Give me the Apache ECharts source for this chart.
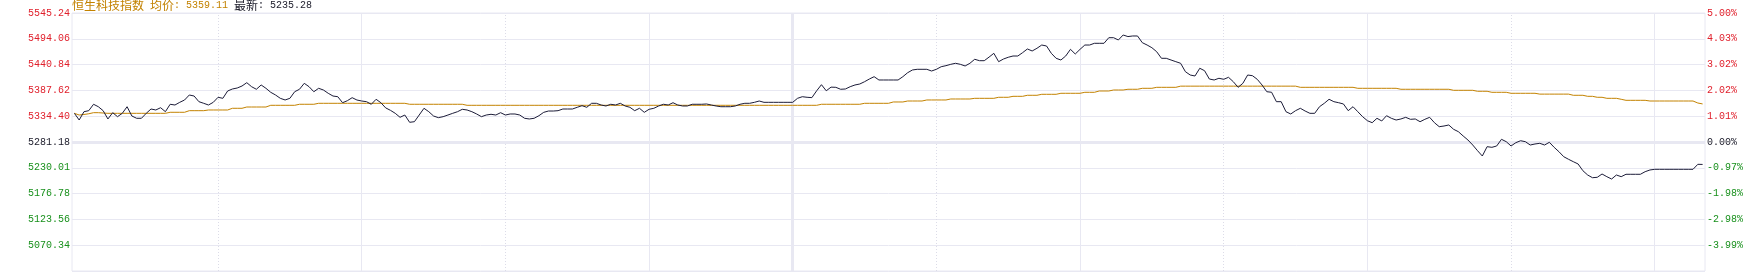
<!DOCTYPE html>
<html>
<head>
<meta charset="utf-8">
<script src="https://cdn.jsdelivr.net/npm/echarts@6/dist/echarts.min.js"></script>
<style>
html,body{margin:0;padding:0;background:#fff;}
#chart{width:1761px;height:274px;}
</style>
</head>
<body>
<div id="chart"></div>
<script>
// ---- data ----
var prevClose = 5281.18;
var avgLast = '5359.11';
var lastPrice = '5235.28';
var titleName = '恒生科技指数';

var leftLabels = ['', '5070.34', '5123.56', '5176.78', '5230.01', '5281.18', '5334.40', '5387.62', '5440.84', '5494.06', '5545.24'];
var rightLabels = ['', '-3.99%', '-2.98%', '-1.98%', '-0.97%', '0.00%', '1.01%', '2.02%', '3.02%', '4.03%', '5.00%'];

var priceValues = [
5339.9,5326.2,5343.2,5345.3,5358.4,5353.4,5345.3,5328.3,5341.2,5333.0,
5339.9,5353.4,5334.4,5329.7,5329.7,5339.9,5348.7,5346.7,5351.4,5343.2,
5358.4,5356.9,5362.4,5367.1,5377.4,5375.3,5363.7,5360.4,5356.9,5362.4,
5372.7,5370.6,5385.6,5389.7,5391.7,5395.8,5402.6,5394.4,5389.1,5397.9,
5391.1,5382.9,5377.4,5370.6,5367.2,5370.6,5384.1,5389.1,5401.3,5394.4,
5384.1,5391.1,5387.6,5380.9,5375.3,5373.9,5361.6,5365.7,5371.9,5367.1,
5365.1,5363.7,5358.4,5368.6,5361.6,5351.0,5346.0,5339.9,5331.7,5336.4,
5321.5,5322.7,5336.4,5350.2,5343.2,5334.4,5331.0,5333.0,5336.4,5339.9,
5343.2,5348.1,5346.7,5343.2,5338.5,5333.0,5336.4,5337.9,5336.4,5341.2,
5336.4,5338.5,5338.5,5336.4,5329.7,5328.3,5329.7,5335.0,5341.9,5344.6,
5344.6,5345.3,5348.7,5348.7,5348.7,5352.2,5355.5,5352.2,5360.4,5360.4,
5356.9,5354.9,5358.4,5356.9,5360.4,5354.9,5352.2,5345.3,5350.2,5341.9,
5348.1,5350.2,5354.9,5358.4,5356.9,5361.6,5356.9,5354.9,5354.9,5358.4,
5358.4,5358.4,5359.0,5356.9,5354.9,5353.4,5353.4,5353.4,5354.9,5358.4,
5360.4,5360.4,5362.4,5365.1,5362.4,5362.4,5362.4,5362.4,5362.4,5362.4,
5362.4,5370.6,5373.9,5372.7,5372.0,5386.0,5398.5,5386.0,5393.5,5393.1,
5389.1,5389.7,5394.4,5397.9,5399.9,5404.6,5410.1,5414.9,5408.1,5408.1,
5408.1,5408.1,5408.1,5414.9,5423.0,5428.6,5430.0,5430.0,5430.0,5426.5,
5430.0,5435.3,5437.4,5440.2,5442.3,5440.2,5436.8,5442.3,5450.5,5447.6,
5447.6,5455.0,5462.7,5445.6,5451.0,5454.6,5457.2,5457.2,5464.0,5471.6,
5467.5,5473.0,5479.7,5477.7,5462.7,5452.5,5449.0,5457.2,5470.9,5461.3,
5470.9,5479.7,5479.7,5483.2,5483.2,5483.2,5494.7,5494.7,5490.0,5500.2,
5497.0,5498.2,5498.2,5484.5,5479.7,5474.2,5466.0,5452.5,5452.5,5449.0,
5445.6,5442.3,5425.1,5418.3,5416.3,5432.1,5427.1,5410.1,5408.1,5411.6,
5409.5,5413.6,5404.6,5393.1,5401.3,5418.3,5416.9,5409.5,5397.9,5384.1,
5383.0,5363.7,5363.7,5343.2,5338.5,5345.3,5350.2,5344.6,5339.9,5339.9,
5353.4,5360.4,5368.6,5363.7,5361.6,5359.0,5345.3,5353.4,5343.2,5333.0,
5324.8,5320.7,5329.7,5324.2,5335.0,5329.7,5326.2,5328.3,5331.7,5327.6,
5328.3,5322.7,5327.6,5331.7,5320.7,5312.5,5313.9,5316.0,5307.2,5302.3,
5293.5,5285.3,5275.0,5263.4,5252.5,5271.6,5270.3,5273.0,5286.7,5281.8,
5273.0,5279.8,5283.8,5281.8,5275.0,5277.1,5278.5,5275.0,5280.6,5270.3,
5261.3,5251.1,5245.8,5240.9,5236.2,5222.4,5213.6,5208.1,5208.9,5215.7,
5210.2,5205.4,5213.6,5210.2,5215.1,5215.1,5215.1,5215.1,5220.4,5223.9,
5225.3,5225.3,5225.3,5225.3,5225.3,5225.3,5225.3,5225.3,5225.3,5235.5,
5235.28
];

var avgValues = [
5339.9,5336.4,5337.5,5339.0,5341.2,5341.2,5340.5,5339.9,5339.9,5339.9,
5339.9,5339.9,5339.9,5339.9,5339.9,5339.9,5339.9,5339.9,5339.9,5339.9,
5342.0,5342.0,5342.0,5342.0,5345.3,5345.3,5345.3,5345.3,5346.7,5346.7,
5346.7,5346.7,5346.7,5350.2,5350.2,5350.2,5352.8,5352.8,5352.8,5352.8,
5352.8,5356.3,5356.3,5356.3,5356.3,5356.3,5356.3,5358.4,5358.4,5358.4,
5358.4,5360.4,5360.4,5360.4,5360.4,5360.4,5360.4,5360.4,5360.4,5360.4,
5360.4,5360.4,5360.4,5360.4,5360.4,5360.4,5360.4,5360.4,5360.4,5360.4,
5358.4,5358.4,5358.4,5358.4,5358.4,5358.4,5358.4,5358.4,5358.4,5358.4,
5358.4,5358.4,5356.3,5356.3,5356.3,5356.3,5356.3,5356.3,5356.3,5356.3,
5356.3,5356.3,5356.3,5356.3,5356.3,5356.3,5356.3,5356.3,5356.3,5356.3,
5356.3,5356.3,5356.3,5356.3,5356.3,5356.3,5356.3,5356.3,5356.3,5356.3,
5356.3,5356.3,5356.3,5356.3,5356.3,5356.3,5356.3,5356.3,5356.3,5356.3,
5356.3,5356.3,5356.3,5356.3,5356.3,5356.3,5356.3,5356.3,5356.3,5356.3,
5356.3,5356.3,5356.3,5356.3,5356.3,5356.3,5356.3,5356.3,5356.3,5356.3,
5356.3,5356.3,5356.3,5356.3,5356.3,5356.3,5356.3,5356.3,5356.3,5356.3,
5356.3,5356.3,5356.3,5356.3,5356.3,5356.3,5358.4,5358.4,5358.4,5358.4,
5358.4,5358.4,5358.4,5358.4,5358.4,5360.4,5360.4,5360.4,5360.4,5360.4,
5360.4,5363.1,5363.1,5363.1,5365.1,5365.1,5365.1,5365.1,5367.2,5367.2,
5367.2,5367.2,5367.2,5369.2,5369.2,5369.2,5369.2,5369.2,5370.6,5370.6,
5370.6,5370.6,5370.6,5372.7,5372.7,5372.7,5374.7,5374.7,5374.7,5376.8,
5376.8,5376.8,5378.8,5378.8,5378.8,5378.8,5380.9,5380.9,5380.9,5380.9,
5380.9,5382.9,5382.9,5382.9,5385.6,5385.6,5385.6,5387.6,5387.6,5387.6,
5389.1,5389.1,5389.1,5391.1,5391.1,5391.1,5393.1,5393.1,5393.1,5393.1,
5393.1,5395.5,5395.5,5395.5,5395.5,5395.5,5395.5,5395.5,5395.5,5395.5,
5395.5,5395.5,5395.5,5395.5,5395.5,5395.5,5395.5,5395.5,5395.5,5395.5,
5395.5,5395.5,5395.5,5395.5,5395.5,5395.5,5393.1,5393.1,5393.1,5393.1,
5393.1,5393.1,5393.1,5393.1,5393.1,5393.1,5393.1,5393.1,5391.1,5391.1,
5391.1,5391.1,5391.1,5391.1,5391.1,5391.1,5391.1,5389.1,5389.1,5389.1,
5389.1,5389.1,5389.1,5389.1,5389.1,5389.1,5389.1,5389.1,5387.0,5387.0,
5387.0,5387.0,5387.0,5385.0,5385.0,5385.0,5382.9,5382.9,5382.9,5382.9,
5380.9,5380.9,5380.9,5380.9,5380.9,5380.9,5379.2,5379.2,5379.2,5379.2,
5379.2,5379.2,5379.2,5376.8,5376.8,5376.8,5374.7,5374.7,5372.7,5372.7,
5370.6,5370.6,5370.6,5368.6,5366.5,5366.5,5366.5,5366.5,5366.5,5365.1,
5365.1,5365.1,5365.1,5365.1,5365.1,5365.1,5365.1,5365.1,5365.1,5361.0,
5359.11
];

// vertical time grid lines
var solidTimes = ['10:30', '11:30', '14:00', '15:00', '16:00'];
var dottedTimes = ['10:00', '11:00', '13:30', '14:30', '15:30'];
var middayTime = '12:00';

// ---- categories (trading minutes) ----
function pad(n){ return (n < 10 ? '0' : '') + n; }
var categories = [];
(function(){
  var t;
  for (t = 9*60+30; t <= 12*60; t++) categories.push(pad(Math.floor(t/60)) + ':' + pad(t%60));
  for (t = 13*60+1; t <= 16*60+10; t++) categories.push(pad(Math.floor(t/60)) + ':' + pad(t%60));
})();

function toPct(p){ return (p - prevClose) / prevClose * 100; }
var pricePct = priceValues.map(toPct);
var avgPct = avgValues.map(toPct);

var RED = '#e0202c', GREEN = '#18901c', DARK = '#20202e', GOLD = '#c38200';
var GRID = '#e8e8f2';

function labelColor(v){
  v = parseFloat(v);
  if (Math.abs(v) < 1e-6) return DARK;
  return v > 0 ? RED : GREEN;
}

var markData = [];
dottedTimes.forEach(function(t){ markData.push({xAxis: t, lineStyle: {color: '#dcdce8', width: 1, type: [1, 2]}}); });
solidTimes.forEach(function(t){ markData.push({xAxis: t, lineStyle: {color: GRID, width: 1, type: 'solid'}}); });
markData.push({xAxis: middayTime, lineStyle: {color: GRID, width: 3, type: 'solid'}});
markData.push({yAxis: 0, lineStyle: {color: GRID, width: 3, type: 'solid'}});

var chart = echarts.init(document.getElementById('chart'), null, {renderer: 'canvas'});
chart.setOption({
  animation: false,
  backgroundColor: '#fff',
  title: {
    text: '{cn|' + titleName + '}{m| }{cn|均价}{m|: ' + avgLast + ' }{cnd|最新}{md|: ' + lastPrice + '}',
    left: 72, top: -2, padding: 0,
    textStyle: {
      fontWeight: 'normal',
      rich: {
        cn: {fontFamily: 'Noto Sans CJK SC', fontSize: 12, fontWeight: 'normal', color: GOLD, lineHeight: 14},
        m: {fontFamily: 'Liberation Mono', fontSize: 10, fontWeight: 'normal', color: GOLD, lineHeight: 14},
        cnd: {fontFamily: 'Noto Sans CJK SC', fontSize: 12, fontWeight: 'normal', color: DARK, lineHeight: 14},
        md: {fontFamily: 'Liberation Mono', fontSize: 10, fontWeight: 'normal', color: DARK, lineHeight: 14}
      }
    }
  },
  grid: {left: 72, right: 56, top: 13, bottom: 3, show: true, borderColor: GRID, borderWidth: 1, backgroundColor: 'transparent'},
  xAxis: {
    type: 'category',
    data: categories,
    boundaryGap: true,
    axisLine: {show: false},
    axisTick: {show: false},
    axisLabel: {show: false},
    splitLine: {show: false}
  },
  yAxis: [
    {
      type: 'value', min: -5, max: 5, interval: 1, position: 'left',
      axisLine: {show: false}, axisTick: {show: false},
      splitLine: {show: true, lineStyle: {color: GRID, width: 1}},
      axisLabel: {
        show: true, margin: 2, showMinLabel: false, showMaxLabel: true,
        fontFamily: 'Liberation Mono', fontSize: 10,
        color: labelColor,
        formatter: function(v){ return leftLabels[Math.round(v + 5)]; }
      }
    },
    {
      type: 'value', min: -5, max: 5, interval: 1, position: 'right',
      axisLine: {show: false}, axisTick: {show: false},
      splitLine: {show: false},
      axisLabel: {
        show: true, margin: 2, showMinLabel: false, showMaxLabel: true,
        fontFamily: 'Liberation Mono', fontSize: 10,
        color: labelColor,
        formatter: function(v){ return rightLabels[Math.round(v + 5)]; }
      }
    }
  ],
  series: [
    {
      name: 'grid', type: 'line', z: 1, zlevel: 0, data: [], silent: true,
      markLine: {silent: true, z: 1, symbol: ['none', 'none'], label: {show: false}, animation: false, data: markData}
    },
    {
      name: '均价', type: 'line', z: 3, data: avgPct, showSymbol: false, symbol: 'none',
      lineStyle: {color: GOLD, width: 1}, silent: true
    },
    {
      name: '最新', type: 'line', z: 4, data: pricePct, showSymbol: false, symbol: 'none',
      lineStyle: {color: '#1c1c38', width: 1}, silent: true
    }
  ]
});
</script>
</body>
</html>
